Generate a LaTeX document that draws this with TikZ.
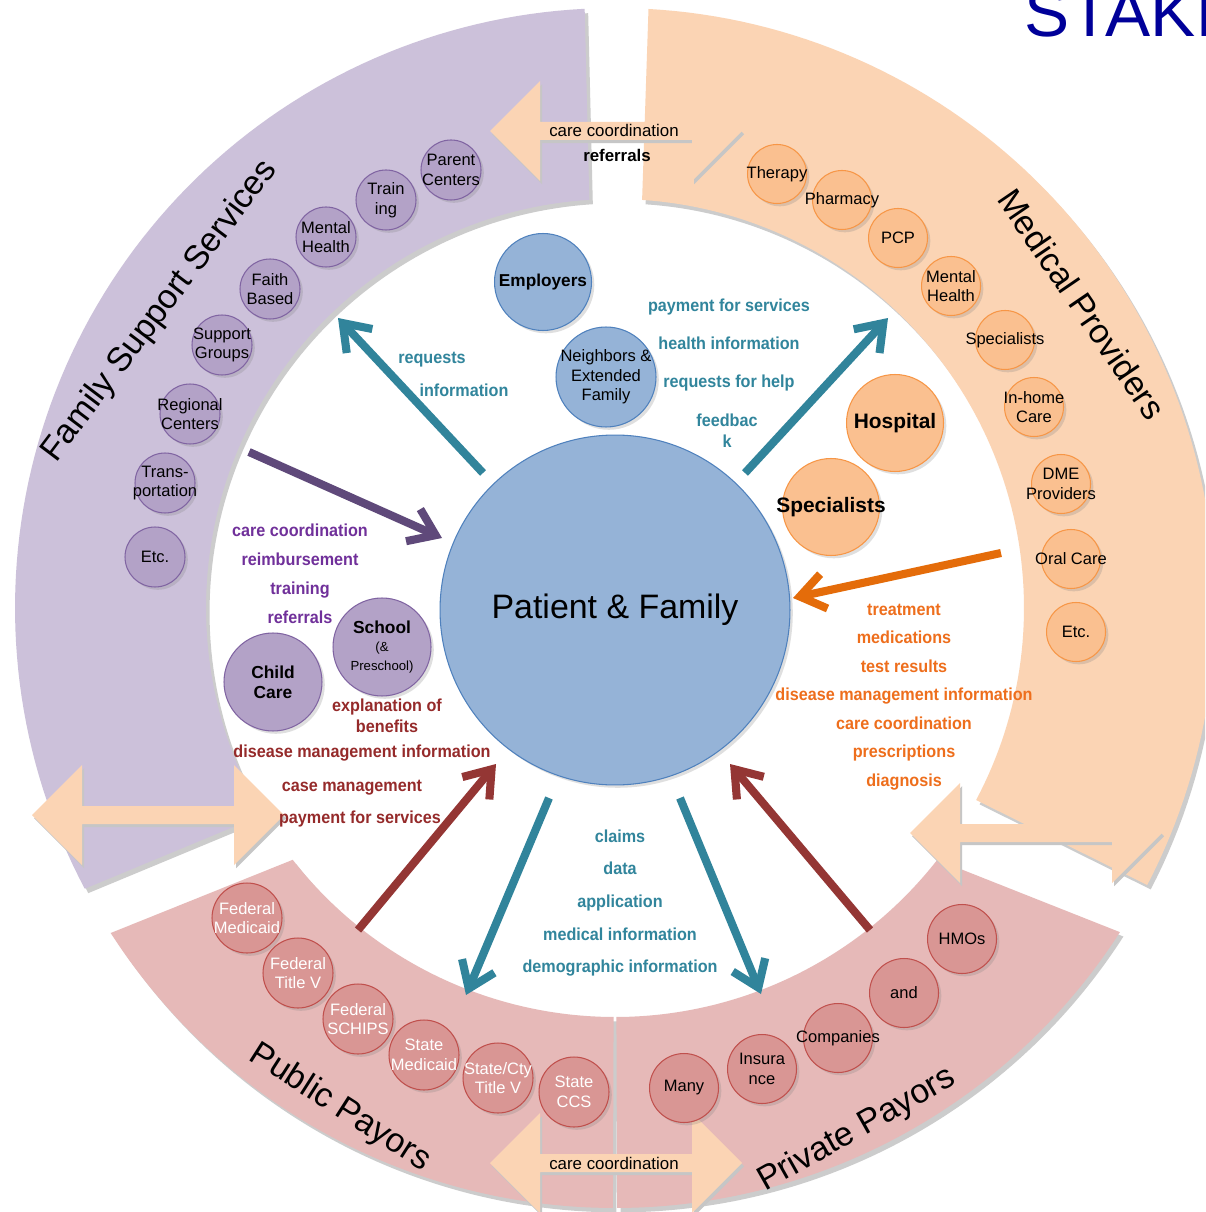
\documentclass[tikz,border=0pt]{standalone}
\usepackage{fontspec}
\setmainfont{Liberation Sans}
\newfontfamily\flowfont[FakeStretch=0.93]{Liberation Sans}
\usepackage{xcolor}
\usetikzlibrary{arrows.meta,shadows,positioning}

\definecolor{fssring}{HTML}{CCC1DA}
\definecolor{medring}{HTML}{FBD4B4}
\definecolor{payring}{HTML}{E6B9B8}
\definecolor{purpfill}{HTML}{B3A2C7}
\definecolor{purpline}{HTML}{8064A2}
\definecolor{orngfill}{HTML}{FAC090}
\definecolor{orngline}{HTML}{F79646}
\definecolor{pinkfill}{HTML}{D99694}
\definecolor{pinkline}{HTML}{C0504D}
\definecolor{bluefill}{HTML}{95B3D7}
\definecolor{blueline}{HTML}{4F81BD}
\definecolor{tealarr}{HTML}{31849B}
\definecolor{purparr}{HTML}{5F497A}
\definecolor{orngarr}{HTML}{E46C0A}
\definecolor{redarr}{HTML}{943634}
\definecolor{tealtxt}{HTML}{31859C}
\definecolor{purptxt}{HTML}{70309A}
\definecolor{redtxt}{HTML}{952A2A}
\definecolor{orngtxt}{HTML}{EE6E1C}
\definecolor{titleblue}{HTML}{000099}

\begin{document}
\begin{tikzpicture}
	[   x=0.02cm, y=-0.02cm,
	    cnode/.style={circle,draw=#1line,fill=#1fill,line width=0.6pt,minimum size=1.2cm,inner sep=0pt,
	        drop shadow={shadow xshift=1.6pt,shadow yshift=-1.6pt,opacity=0.25}},
	    ctext/.style={font=\fontsize{9.4}{11.2}\selectfont,align=center,inner sep=0pt},
	    seglabel/.style={font=\fontsize{19.3}{22}\selectfont,inner sep=0pt},
	    flow/.style={font={\flowfont\bfseries\fontsize{9.9}{#1}\selectfont},align=center,inner sep=0pt},
	    flow/.default=12,
	]
	\tikzset{flow arrow/.style={draw=#1,line width=4.6pt,-{Straight Barb[length=14pt,width=20pt]}}}
	\useasboundingbox (0,0) rectangle (1205,1212);
	\clip (0,0) rectangle (1205,1212);
	\fill[white] (0,0) rectangle (1205,1212);
	
	\foreach \col/\oa/\ob/\ia/\ib in {fssring/92.9/207.9/210.4/93.6, medring/-27.5/86.8/86.2/-28, payring/212.8/269.8/269.8/218, payring/270.2/327.3/322/270.2}
	{
		\fill[gray!40,xshift=2pt,yshift=-2.5pt] plot[domain=\oa:\ob,samples=90] ({615+600*cos(\x)},{608-600*sin(\x)}) -- plot[domain=\ia:\ib,samples=90] ({615+409*cos(\x)},{608-409*sin(\x)}) -- cycle;
		\fill[fill=\col] plot[domain=\oa:\ob,samples=90] ({615+600*cos(\x)},{608-600*sin(\x)}) -- plot[domain=\ia:\ib,samples=90] ({615+409*cos(\x)},{608-409*sin(\x)}) -- cycle;
	}
	
	\foreach \cx/\cy in {616/131,158/815,616/1163,1036/833}
	{
		\fill[gray!45,xshift=1.2pt,yshift=-1.8pt] (\cx-126,\cy) -- ++(50,-50) -- ++(0,41) -- ++(152,0) -- ++(0,-41) -- ++(50,50) -- ++(-50,50) -- ++(0,-41) -- ++(-152,0) -- ++(0,41) -- cycle;
		\fill[medring] (\cx-126,\cy) -- ++(50,-50) -- ++(0,41) -- ++(152,0) -- ++(0,-41) -- ++(50,50) -- ++(-50,50) -- ++(0,-41) -- ++(-152,0) -- ++(0,41) -- cycle;
	}
	\node[ctext,font=\fontsize{9.6}{11}\selectfont] (cctop) at (614,130) {care coordination};
	\node[ctext,font=\bfseries\fontsize{9.6}{11}\selectfont] (reftop) at (617,155) {referrals};
	\node[ctext,font=\fontsize{9.6}{11}\selectfont] (ccbot) at (614,1163) {care coordination};
	\node[anchor=base west,inner sep=0pt,text=titleblue,font=\fontsize{38.5}{42}\selectfont] (title) at (1024,37) {STAKE};
	
	\node[seglabel,rotate=53] (fsslbl) at (160,311) {Family Support Services};
	\node[seglabel,rotate=-55.7] (medlbl) at (1082,304) {Medical Providers};
	\node[seglabel,rotate=-32.6] (publbl) at (340,1108) {Public Payors};
	\node[seglabel,rotate=29.4] (privlbl) at (857,1130) {Private Payors};
	
	\foreach \n/\px/\py/\t in {1/451/170/{Parent\\Centers},2/386/200/{Train\\ing},3/326/237/{Mental\\Health},4/270/289/{Faith\\Based},5/222/345/{Support\\Groups},6/190/414/{Regional\\Centers},7/165/483/{Trans-\\portation},8/155/557/{Etc.}}
		\node[cnode=purp,label={[ctext]center:\t}] (fss-\n) at (\px,\py) {};
	\foreach \n/\px/\py/\t in {1/777/174/{Therapy},2/842/200/{Pharmacy},3/898/238/{PCP},4/951/286/{Mental\\Health},5/1005/340/{Specialists},6/1034/407/{In-home\\Care},7/1061/484/{DME\\Providers},8/1071/559/{Oral Care},9/1076/632/{Etc.}}
		\node[cnode=orng,minimum size=1.18cm,label={[ctext]center:\t}] (med-\n) at (\px,\py) {};
	\foreach \n/\px/\py/\t in {1/247/918/{Federal\\Medicaid},2/298/973/{Federal\\Title V},3/358/1019/{Federal\\SCHIPS},4/424/1055/{State\\Medicaid},5/498/1078/{State/Cty\\Title V},6/574/1092/{State\\CCS}}
		\node[cnode=pink,minimum size=1.4cm,label={[ctext,text=white]center:\t}] (pub-\n) at (\px,\py) {};
	\foreach \n/\px/\py/\t in {1/684/1088/{Many},2/762/1069/{Insura\\nce},3/838/1038/{Companies},4/904/993/{and},5/962/939/{HMOs}}
		\node[cnode=pink,minimum size=1.38cm,label={[ctext]center:\t}] (priv-\n) at (\px,\py) {};
	
	\node[cnode=blue,minimum size=1.94cm,label={[ctext,font=\bfseries\fontsize{9.8}{11}\selectfont]center:Employers}] (employers) at (543,282) {};
	\node[cnode=blue,minimum size=2cm,label={[ctext]center:Neighbors \&\\Extended\\Family}] (neighbors) at (606,377) {};
	\node[cnode=orng,minimum size=1.94cm,label={[ctext,font=\bfseries\fontsize{11.9}{13}\selectfont]center:Hospital}] (hospital) at (895,423) {};
	\node[cnode=orng,minimum size=1.94cm,label={[ctext,font=\bfseries\fontsize{11.9}{13}\selectfont]center:Specialists}] (specialists) at (831,507) {};
	\node[cnode=purp,minimum size=1.96cm,label={[ctext]center:{\bfseries\fontsize{9.9}{11}\selectfont School}\\[-1pt]{\fontsize{7.5}{8.5}\selectfont (\&}\\{\fontsize{7.5}{8.5}\selectfont Preschool)}}] (school) at (382,647) {};
	\node[cnode=purp,minimum size=1.96cm,label={[ctext,font=\bfseries\fontsize{9.9}{11.3}\selectfont]center:Child\\Care}] (childcare) at (273,682) {};
	\node[cnode=blue,minimum size=7cm,label={[inner sep=0pt,font=\fontsize{19.3}{22}\selectfont]center:Patient \& Family}] (patient) at (615,610) {};
	
	\coordinate (ul0) at (483,473); \coordinate (ul1) at (338,318);
	\coordinate (ur0) at (745,473); \coordinate (ur1) at (888,318);
	\coordinate (fs0) at (249,452); \coordinate (fs1) at (442,538);
	\coordinate (md0) at (1001,553); \coordinate (md1) at (793,598);
	\coordinate (pl0) at (358,930); \coordinate (pl1) at (496,764);
	\coordinate (pr0) at (870,930); \coordinate (pr1) at (730,764);
	\coordinate (dl0) at (549,798); \coordinate (dl1) at (466,995);
	\coordinate (dr0) at (680,798); \coordinate (dr1) at (761,994);
	\foreach \a/\c in {ul/tealarr,ur/tealarr,fs/purparr,md/orngarr,pl/redarr,pr/redarr,dl/tealarr,dr/tealarr}
		\path[flow arrow=\c] (\a0) -- (\a1);
	
	\node[flow,text=tealtxt] (req) at (432,360) {requests};
	\node[flow,text=tealtxt] (info) at (464,390) {information};
	\node[flow=21.8,text=tealtxt] (medflow) at (729,345) {payment for services\\health information\\requests for help};
	\node[flow=11.9,text=tealtxt] (feedback) at (727,431) {feedbac\\k};
	\node[flow=16.6,text=purptxt] (fssflow) at (300,574) {care coordination\\reimbursement\\training\\referrals};
	\node[flow=11.9,text=redtxt] (eob) at (387,716) {explanation of\\benefits};
	\node[flow,text=redtxt] (dmi) at (362,753) {disease management information};
	\node[flow,text=redtxt] (casem) at (352,788) {case management};
	\node[flow,text=redtxt] (pfs) at (360,819) {payment for services};
	\node[flow=16.2,text=orngtxt] (mpflow) at (904,697) {treatment\\medications\\test results\\disease management information\\care coordination\\prescriptions\\diagnosis};
	\node[flow=18.6,text=tealtxt] (payflow) at (620,903) {claims\\data\\application\\medical information\\demographic information};
\end{tikzpicture}
\end{document}
